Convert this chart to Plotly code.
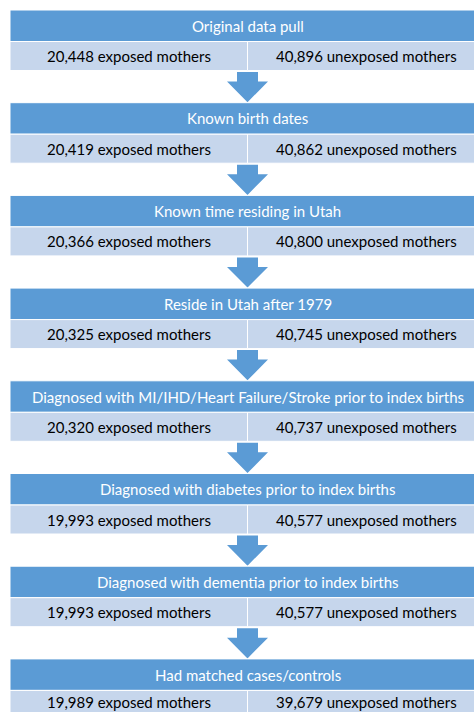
import plotly.graph_objects as go

stages = [
    "Original data pull",
    "Known birth dates",
    "Known time residing in Utah",
    "Reside in Utah after 1979",
    "Diagnosed with MI/IHD/Heart Failure/Stroke prior to index births",
    "Diagnosed with diabetes prior to index births",
    "Diagnosed with dementia prior to index births",
    "Had matched cases/controls",
]
exposed = [20448, 20419, 20366, 20325, 20320, 19993, 19993, 19989]
unexposed = [40896, 40862, 40800, 40745, 40737, 40577, 40577, 39679]

W, H = 474, 712
HEADER = "#5B9BD5"
ROW = "#C6D6EC"
FONT = "Lato"
FS = 15

left, right = 10, 485
mid = (left + right) / 2
step = 92.7
top0 = 10

fig = go.Figure()
shapes = []
annotations = []
for i, title in enumerate(stages):
    t = top0 + i * step
    hb = t + 31.5
    rb = t + 60.5
    ty = min((hb + rb) / 2, H - 10)
    shapes.append(dict(type="rect", x0=left, x1=right, y0=t, y1=hb,
                       fillcolor=HEADER, line=dict(color="white", width=1)))
    shapes.append(dict(type="rect", x0=left, x1=mid, y0=hb, y1=rb,
                       fillcolor=ROW, line=dict(color="white", width=1)))
    shapes.append(dict(type="rect", x0=mid, x1=right, y0=hb, y1=rb,
                       fillcolor=ROW, line=dict(color="white", width=1)))
    annotations.append(dict(x=mid, y=(t + hb) / 2, text=title, showarrow=False,
                            font=dict(family=FONT, size=FS, color="white"),
                            xanchor="center", yanchor="middle"))
    annotations.append(dict(x=(left + mid) / 2, y=ty,
                            text=f"{exposed[i]:,} exposed mothers", showarrow=False,
                            font=dict(family=FONT, size=FS, color="black"),
                            xanchor="center", yanchor="middle"))
    annotations.append(dict(x=(mid + right) / 2, y=ty,
                            text=f"{unexposed[i]:,} unexposed mothers", showarrow=False,
                            font=dict(family=FONT, size=FS, color="black"),
                            xanchor="center", yanchor="middle"))
    if i < len(stages) - 1:
        s0 = rb + 1.5
        hbase = rb + 11
        tip = t + step - 0.5
        sw, hw = 10.5, 20.5
        path = (f"M {mid-sw},{s0} L {mid+sw},{s0} L {mid+sw},{hbase} L {mid+hw},{hbase} "
                f"L {mid},{tip} L {mid-hw},{hbase} L {mid-sw},{hbase} Z")
        shapes.append(dict(type="path", path=path, fillcolor=HEADER, line=dict(width=0)))

fig.update_layout(
    width=W, height=H,
    margin=dict(l=0, r=0, t=0, b=0),
    paper_bgcolor="white", plot_bgcolor="white",
    xaxis=dict(range=[0, W], visible=False, fixedrange=True),
    yaxis=dict(range=[H, 0], visible=False, fixedrange=True),
    shapes=shapes, annotations=annotations, showlegend=False,
)
fig.write_html("out.html", config=dict(displayModeBar=False))

with open("out.html", encoding="utf-8") as f:
    html = f.read()
html = html.replace("<head>", "<head><style>html,body{margin:0;padding:0;overflow:hidden;}</style>", 1)
with open("out.html", "w", encoding="utf-8") as f:
    f.write(html)
